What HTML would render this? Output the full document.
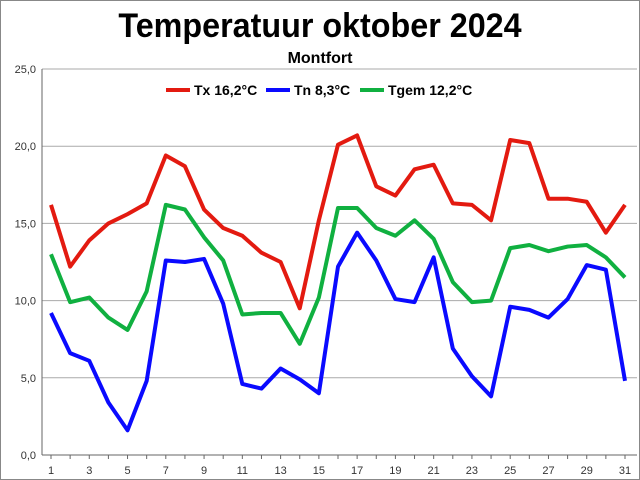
<!DOCTYPE html>
<html><head><meta charset="utf-8"><style>
body{margin:0;background:#fff}
svg{display:block;font-family:"Liberation Sans",sans-serif}
</style></head><body>
<svg id="c" width="640" height="480">
<rect x="0.5" y="0.5" width="639" height="479" fill="#fff" stroke="#888"/>
<text x="320" y="37" text-anchor="middle" font-size="34" font-weight="bold" transform="translate(320 0) scale(0.95 1) translate(-320 0)">Temperatuur oktober 2024</text>
<text x="320" y="63" text-anchor="middle" font-size="16" font-weight="bold">Montfort</text>
<g id="grid"></g><g id="lines"></g>
<g font-size="14" font-weight="bold">
<line x1="166" y1="90" x2="190" y2="90" stroke="#e31a10" stroke-width="4"/>
<text x="194" y="95">Tx 16,2°C</text>
<line x1="266" y1="90" x2="290" y2="90" stroke="#0a0aff" stroke-width="4"/>
<text x="294" y="95">Tn 8,3°C</text>
<line x1="360" y1="90" x2="384" y2="90" stroke="#10b040" stroke-width="4"/>
<text x="388" y="95">Tgem 12,2°C</text>
</g>
</svg>
<script>
const days=[...Array(31)].map((_,i)=>i+1);
const tx=[16.2,12.2,13.9,15.0,15.6,16.3,19.4,18.7,15.9,14.7,14.2,13.1,12.5,9.5,15.2,20.1,20.7,17.4,16.8,18.5,18.8,16.3,16.2,15.2,20.4,20.2,16.6,16.6,16.4,14.4,16.2];
const tn=[9.2,6.6,6.1,3.4,1.6,4.8,12.6,12.5,12.7,9.8,4.6,4.3,5.6,4.9,4.0,12.2,14.4,12.6,10.1,9.9,12.8,6.9,5.1,3.8,9.6,9.4,8.9,10.1,12.3,12.0,4.8];
const tgem=[13.0,9.9,10.2,8.9,8.1,10.6,16.2,15.9,14.1,12.6,9.1,9.2,9.2,7.2,10.2,16.0,16.0,14.7,14.2,15.2,14.0,11.2,9.9,10.0,13.4,13.6,13.2,13.5,13.6,12.8,11.5];
const yTicks=[0,5,10,15,20,25];
const yLabels=["0,0","5,0","10,0","15,0","20,0","25,0"];
const NS="http://www.w3.org/2000/svg";
const X0=42,X1=637,Y0=455,Y1=69;
const xs=d=>51+(d-1)*(625-51)/30;
const ys=v=>Y0-v*(Y0-Y1)/25;
const g=document.getElementById('grid'),L=document.getElementById('lines');
function mk(t,a,p){const e=document.createElementNS(NS,t);for(const k in a)e.setAttribute(k,a[k]);p.appendChild(e);return e;}
yTicks.forEach((v,i)=>{
 const l=mk('line',{x1:X0,x2:X1,y1:ys(v),y2:ys(v),stroke:v===0?'#666':'#aaa','stroke-width':1},g);
 
 
 const t=mk('text',{x:36,y:ys(v)+4,'text-anchor':'end','font-size':11,fill:'#333'},g);
 t.textContent=yLabels[i];
 
 
});
const ax=mk('line',{x1:X0,x2:X0,y1:Y1,y2:Y0,stroke:'#666'},g);


days.forEach(d=>{
 const tk=mk('line',{x1:xs(d),x2:xs(d),y1:Y0,y2:Y0+4,stroke:'#666'},g);
 
 
 if(d%2===1){const t=mk('text',{x:xs(d),y:474,'text-anchor':'middle','font-size':11,fill:'#333'},g);
 t.textContent=d;
 
 }
});
[[tx,'#e31a10','tx-line'],[tgem,'#10b040','tgem-line'],[tn,'#0a0aff','tn-line']].forEach(([s,c,n])=>{
 const p=mk('polyline',{points:s.map((v,i)=>xs(days[i])+','+ys(v)).join(' '),fill:'none',stroke:c,'stroke-width':4,'stroke-linejoin':'round'},L);
 
 
});
</script>
</body></html>
